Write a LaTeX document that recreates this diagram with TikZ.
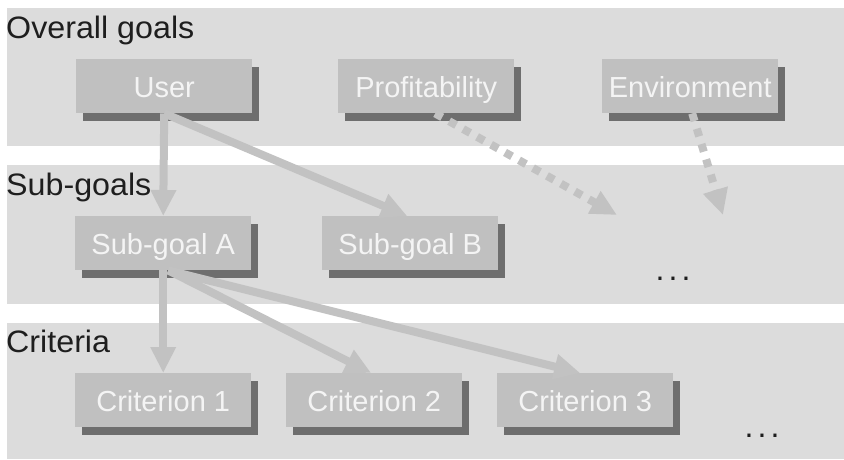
\documentclass[tikz,border=0pt]{standalone}
\usepackage{fontspec}
\setmainfont{Liberation Sans}
\newfontfamily\headfont[FakeStretch=1.04]{Liberation Sans}
\usetikzlibrary{arrows.meta,shadows}

\definecolor{bandgrey}{HTML}{DCDCDC}
\definecolor{boxgrey}{HTML}{C0C0C0}
\definecolor{shadegrey}{HTML}{6E6E6E}
\definecolor{boxtext}{HTML}{F4F4F4}
\definecolor{headtext}{HTML}{1E1E1E}
\definecolor{linkgrey}{HTML}{C2C2C2}

\tikzset{
  band/.style={fill=bandgrey, draw=none},
  heading/.style={anchor=base west, inner sep=0pt, text=headtext,
    font=\headfont\fontsize{31}{36}\selectfont},
  goalbox/.style={anchor=north west, fill=boxgrey, draw=none,
    minimum width=176pt, minimum height=54pt, inner sep=0pt,
    text height=22pt, text depth=0pt,
    text=boxtext, font=\fontsize{29}{34}\selectfont,
    general shadow={shadow xshift=7pt, shadow yshift=-8pt,
      fill=shadegrey, opacity=1}},
  link/.style={draw=linkgrey, line width=8pt,
    -{Triangle[width=24pt,length=26pt]}},
  weaklink/.style={link, dash pattern=on 8pt off 8pt},
  ellipsis/.style={anchor=base, inner sep=0pt, text=headtext,
    font=\fontsize{32}{36}\selectfont},
}
\newcommand{\spreaddots}{.\hspace{4.1pt}.\hspace{4.1pt}.}

\begin{document}
\begin{tikzpicture}[x=1pt,y=-1pt]
  \useasboundingbox (0,0) rectangle (844,459);

  % horizontal level bands
  \fill[band] (7,8) rectangle (844,146);
  \fill[band] (7,165) rectangle (844,304);
  \fill[band] (7,323) rectangle (844,459);

  % level headings
  \node[heading] (hgoals) at (6,38) {Overall goals};
  \node[heading] (hsub) at (6,195) {Sub-goals};
  \node[heading] (hcrit) at (6,352) {Criteria};

  % overall goals
  \node[goalbox] (user) at (76,59) {User};
  \node[goalbox] (prof) at (338,59) {Profitability};
  \node[goalbox] (env) at (602,59) {Environment};

  % sub-goals
  \node[goalbox] (sga) at (75,216) {Sub-goal A};
  \node[goalbox] (sgb) at (322,216) {Sub-goal B};
  \node[ellipsis] (moresub) at (673,280.6) {\spreaddots};

  % criteria
  \node[goalbox] (crit1) at (75,373) {Criterion 1};
  \node[goalbox] (crit2) at (286,373) {Criterion 2};
  \node[goalbox] (crit3) at (497,373) {Criterion 3};
  \node[ellipsis] (morecrit) at (762,437.6) {\spreaddots};

  % open ends of the dotted links
  \coordinate (profend) at (617,215);
  \coordinate (envend) at (723,215);

  % links between levels
  \draw[link] (user.south) -- (sga.north);
  \draw[link] (user.south) -- ([xshift=-3pt]sgb.north);
  \draw[weaklink] ([xshift=9pt]prof.south) -- (profend);
  \draw[weaklink] ([xshift=2pt]env.south) -- (envend);
  \draw[link] (sga.south) -- (crit1.north);
  \draw[link] ([xshift=5pt]sga.south) -- ([xshift=-3pt]crit2.north);
  \draw[link] ([xshift=5pt]sga.south) -- ([xshift=-5pt]crit3.north);
\end{tikzpicture}
\end{document}
